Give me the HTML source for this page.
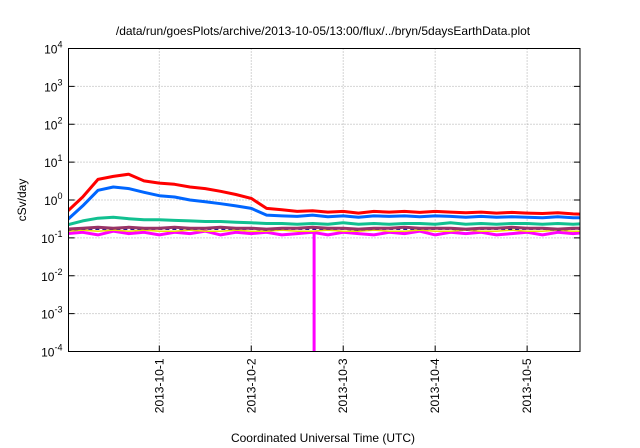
<!DOCTYPE html>
<html><head><meta charset="utf-8"><style>
body{margin:0;background:#fff;}
svg{display:block;font-family:"Liberation Sans",sans-serif;}
</style></head><body>
<svg id="chart" width="640" height="448">
<defs><clipPath id="clip"><rect x="68.5" y="48.5" width="511.5" height="303"/></clipPath></defs>
<text x="323" y="35" font-size="12" text-anchor="middle">/data/run/goesPlots/archive/2013-10-05/13:00/flux/../bryn/5daysEarthData.plot</text>
<text transform="translate(26,200) rotate(-90)" font-size="12" text-anchor="middle">cSv/day</text>
<text x="323" y="442" font-size="12" text-anchor="middle">Coordinated Universal Time (UTC)</text>
<g id="grid"></g><g id="series" clip-path="url(#clip)"></g><g id="axes"></g>
</svg>
<script>
const times=[-24,-20,-16,-12,-8,-4,0,4,8,12,16,20,24,28,32,36,40,44,48,52,56,60,64,68,72,76,80,84,88,92,96,100,104,108,112];
const red=[0.5,1.2,3.5,4.2,4.8,3.2,2.8,2.6,2.2,2.0,1.7,1.4,1.1,0.6,0.55,0.5,0.52,0.48,0.5,0.45,0.5,0.48,0.5,0.47,0.5,0.48,0.46,0.48,0.45,0.47,0.45,0.44,0.46,0.43,0.42];
const blue=[0.3,0.7,1.8,2.2,2.0,1.6,1.3,1.2,1.0,0.9,0.8,0.7,0.6,0.4,0.38,0.37,0.4,0.36,0.38,0.35,0.38,0.37,0.38,0.36,0.38,0.37,0.35,0.37,0.35,0.36,0.35,0.34,0.36,0.34,0.34];
const green=[0.22,0.28,0.33,0.35,0.32,0.3,0.3,0.29,0.28,0.27,0.27,0.26,0.25,0.24,0.24,0.23,0.24,0.23,0.25,0.23,0.24,0.23,0.24,0.24,0.23,0.25,0.23,0.24,0.23,0.24,0.24,0.23,0.24,0.23,0.24];
const purple=[0.17,0.18,0.19,0.18,0.19,0.18,0.18,0.19,0.18,0.18,0.19,0.18,0.18,0.17,0.18,0.18,0.19,0.18,0.18,0.17,0.18,0.18,0.19,0.18,0.18,0.18,0.17,0.18,0.18,0.19,0.18,0.18,0.17,0.18,0.18];
const navy=[0.16,0.17,0.17,0.17,0.17,0.17,0.17,0.17,0.17,0.17,0.17,0.17,0.17,0.16,0.17,0.17,0.17,0.17,0.17,0.16,0.17,0.17,0.17,0.17,0.17,0.17,0.16,0.17,0.17,0.17,0.17,0.17,0.16,0.17,0.17];
const yellow=[0.15,0.16,0.15,0.16,0.15,0.16,0.15,0.15,0.16,0.15,0.15,0.16,0.15,0.15,0.16,0.15,0.15,0.16,0.15,0.15,0.16,0.15,0.15,0.16,0.15,0.15,0.16,0.15,0.15,0.16,0.15,0.15,0.16,0.15,0.15];
const magenta=[0.13,0.14,0.12,0.15,0.13,0.14,0.12,0.14,0.13,0.15,0.12,0.14,0.13,0.14,0.12,0.13,0.14,0.12,0.14,0.13,0.12,0.14,0.13,0.15,0.12,0.14,0.13,0.14,0.12,0.13,0.14,0.12,0.14,0.13,0.14];
const spikeTimes=[40.4];
const spikeValues=[0.0001];
const xTickHours=[0,24,48,72,96];
const xTickLabels=["2013-10-1","2013-10-2","2013-10-3","2013-10-4","2013-10-5"];
const yTickExps=[-4,-3,-2,-1,0,1,2,3,4];

const L=68.5,R=580,T=48.5,B=351.5,tMin=-23.7,tMax=109.8;
const x=t=>L+(t-tMin)/(tMax-tMin)*(R-L);
const y=v=>B-(Math.log10(v)+4)/8*(B-T);
const NS="http://www.w3.org/2000/svg";
function mk(tag,attrs,parent){const e=document.createElementNS(NS,tag);for(const k in attrs)e.setAttribute(k,attrs[k]);parent.appendChild(e);return e;}
const grid=document.getElementById('grid'),axes=document.getElementById('axes'),ser=document.getElementById('series');
yTickExps.forEach(p=>{const yy=y(Math.pow(10,p));
 if(p>-4&&p<4){const g=mk('line',{x1:L,x2:R,y1:yy,y2:yy,stroke:'#aaa','stroke-dasharray':'1,2','stroke-width':1},grid);
 
 }
 const tl=mk('line',{x1:L,x2:L+6,y1:yy,y2:yy,stroke:'#000'},axes);
 
 
 const tr=mk('line',{x1:R-6,x2:R,y1:yy,y2:yy,stroke:'#000'},axes);
 
 
 const t=mk('text',{x:L-6,y:yy+5,'font-size':12,'text-anchor':'end'},axes);
 
 
 t.innerHTML='10<tspan dy="-6" font-size="9">'+p+'</tspan>';});
xTickHours.forEach((h,i)=>{const xx=x(h);
 const g=mk('line',{x1:xx,x2:xx,y1:T,y2:B,stroke:'#aaa','stroke-dasharray':'1,2'},grid);
 
 
 const tk=mk('line',{x1:xx,x2:xx,y1:B-6,y2:B,stroke:'#000'},axes);
 
 
 const t=mk('text',{transform:`translate(${xx+4},${B+7}) rotate(-90)`,'font-size':12,'text-anchor':'end'},axes);
 
 
 t.textContent=xTickLabels[i];});
const fr=mk('rect',{x:L,y:T,width:R-L,height:B-T,fill:'none',stroke:'#000','stroke-width':1},axes);


function line(vals,color,w,name,dash){const d=vals.map((v,i)=>(i?'L':'M')+x(times[i]).toFixed(1)+','+y(v).toFixed(1)).join('');
 const p=mk('path',{d:d,fill:'none',stroke:color,'stroke-width':w,'stroke-linejoin':'round'},ser);
 if(dash)p.setAttribute('stroke-dasharray',dash);
 
 }
line(magenta,'#ff00ff',3,'series-magenta');
line(yellow,'#e8e000',1.5,'series-yellow');
line(navy,'#000080',1.5,'series-navy','4,3');
line(purple,'#993366',3,'series-purple');
line(green,'#11c090',3,'series-green');
line(blue,'#0066ff',3,'series-blue');
line(red,'#ff0000',3,'series-red');
spikeTimes.forEach((t,i)=>{const s=mk('line',{x1:x(t),x2:x(t),y1:y(0.13),y2:y(spikeValues[i]),stroke:'#ff00ff','stroke-width':3},ser);
 
 });
</script>
</body></html>
